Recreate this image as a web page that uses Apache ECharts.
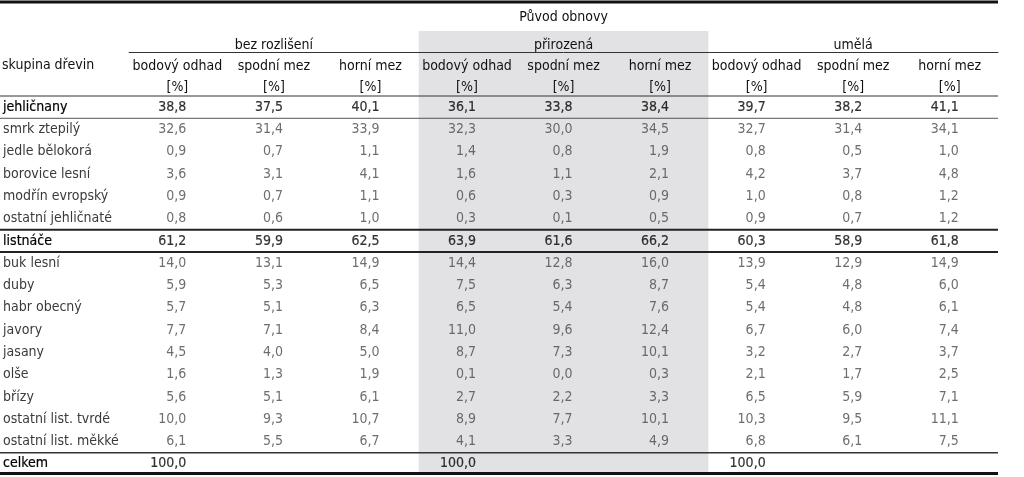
<!DOCTYPE html>
<html><head><meta charset="utf-8">
<script src="https://cdn.jsdelivr.net/npm/echarts@6/dist/echarts.min.js"></script>
<style>html,body{margin:0;padding:0;background:#fff}#c{width:1024px;height:477px}</style>
</head><body><div id="c"></div>
<script>
const FONT = '"Liberation Sans Narrow","DejaVu Sans Condensed","Arial Narrow",sans-serif';
const FS = 14;
const topTitle = 'Původ obnovy';
const groups = ['bez rozlišení', 'přirozená', 'umělá'];
const measures = ['bodový odhad', 'spodní mez', 'horní mez'];
const unitLabel = '[%]';
const rowHeader = 'skupina dřevin';
const rowNames = ['jehličnany', 'smrk ztepilý', 'jedle bělokorá', 'borovice lesní', 'modřín evropský', 'ostatní jehličnaté',
  'listnáče', 'buk lesní', 'duby', 'habr obecný', 'javory', 'jasany', 'olše', 'břízy', 'ostatní list. tvrdé', 'ostatní list. měkké', 'celkem'];
const summaryRows = ['jehličnany', 'listnáče', 'celkem'];

const bezBod = [38.8, 32.6, 0.9, 3.6, 0.9, 0.8, 61.2, 14.0, 5.9, 5.7, 7.7, 4.5, 1.6, 5.6, 10.0, 6.1, 100.0];
const bezDol = [37.5, 31.4, 0.7, 3.1, 0.7, 0.6, 59.9, 13.1, 5.3, 5.1, 7.1, 4.0, 1.3, 5.1, 9.3, 5.5, null];
const bezHor = [40.1, 33.9, 1.1, 4.1, 1.1, 1.0, 62.5, 14.9, 6.5, 6.3, 8.4, 5.0, 1.9, 6.1, 10.7, 6.7, null];
const priBod = [36.1, 32.3, 1.4, 1.6, 0.6, 0.3, 63.9, 14.4, 7.5, 6.5, 11.0, 8.7, 0.1, 2.7, 8.9, 4.1, 100.0];
const priDol = [33.8, 30.0, 0.8, 1.1, 0.3, 0.1, 61.6, 12.8, 6.3, 5.4, 9.6, 7.3, 0.0, 2.2, 7.7, 3.3, null];
const priHor = [38.4, 34.5, 1.9, 2.1, 0.9, 0.5, 66.2, 16.0, 8.7, 7.6, 12.4, 10.1, 0.3, 3.3, 10.1, 4.9, null];
const umeBod = [39.7, 32.7, 0.8, 4.2, 1.0, 0.9, 60.3, 13.9, 5.4, 5.4, 6.7, 3.2, 2.1, 6.5, 10.3, 6.8, 100.0];
const umeDol = [38.2, 31.4, 0.5, 3.7, 0.8, 0.7, 58.9, 12.9, 4.8, 4.8, 6.0, 2.7, 1.7, 5.9, 9.5, 6.1, null];
const umeHor = [41.1, 34.1, 1.0, 4.8, 1.2, 1.2, 61.8, 14.9, 6.0, 6.1, 7.4, 3.7, 2.5, 7.1, 11.1, 7.5, null];

const columnsData = [bezBod, bezDol, bezHor, priBod, priDol, priHor, umeBod, umeDol, umeHor];
const columnKeys = columnsData.map((_, i) => 'c' + i);
const columnLabels = columnsData.map((_, i) => measures[i % 3]);

const fmt = v => v.toFixed(1).replace('.', ',');
const boldStyle = { fontFamily: FONT, fontSize: FS, color: '#000', textBorderColor: '#000', textBorderWidth: 0.2 };
const rich = {
  b: boldStyle,
  n: { fontFamily: FONT, fontSize: FS, color: '#4a4a4a' }
};

const chart = echarts.init(document.getElementById('c'), null, { renderer: 'canvas' });

const series = columnsData.map((vals, ci) => ({
  type: 'scatter',
  symbolSize: 0,
  silent: true,
  clip: false,
  data: vals.map((v, ri) => v == null ? null : [ci, ri, v]).filter(d => d),
  label: {
    show: true,
    position: 'inside',
    align: 'right',
    offset: [9, 0],
    formatter: p => {
      const isSum = summaryRows.includes(rowNames[p.value[1]]);
      return (isSum ? '{b|' : '{n|') + fmt(p.value[2]) + '}';
    },
    rich: rich
  }
}));

const axisText = { fontFamily: FONT, fontSize: FS, color: '#111' };

chart.setOption({
  animation: false,
  backgroundColor: '#fff',
  title: {
    text: rowHeader, left: 2, top: 58, padding: 0,
    textStyle: { fontFamily: FONT, fontSize: FS, color: '#111', fontWeight: 'normal' }
  },
  grid: { left: 128, right: 26, top: 96, bottom: 2, containLabel: false },
  xAxis: [
    {
      type: 'category', data: columnKeys, position: 'top',
      axisLine: { show: false }, axisTick: { show: false }, splitLine: { show: false },
      axisLabel: Object.assign({}, axisText, {
        interval: 0, margin: -2, lineHeight: 21,
        formatter: (v, i) => columnLabels[i] + '\n' + unitLabel
      })
    },
    {
      type: 'category', data: groups, position: 'top', offset: 43.5,
      axisLine: { show: true, lineStyle: { color: '#333', width: 1 } },
      axisTick: { show: false }, splitLine: { show: false },
      axisLabel: Object.assign({}, axisText, { interval: 0, margin: 0 })
    },
    {
      type: 'category', data: [topTitle], position: 'top', offset: 72,
      axisLine: { show: false }, axisTick: { show: false }, splitLine: { show: false },
      axisLabel: Object.assign({}, axisText, { margin: 0 })
    }
  ],
  yAxis: {
    type: 'category', data: rowNames, inverse: true,
    axisLine: { show: false }, axisTick: { show: false }, splitLine: { show: false },
    axisLabel: {
      interval: 0, align: 'left', margin: 126,
      formatter: v => (summaryRows.includes(v) ? '{b|' : '{n|') + v + '}',
      rich: {
        b: boldStyle,
        n: { fontFamily: FONT, fontSize: FS, color: '#3a3a3a' }
      }
    }
  },
  series: series
});

// layout decorations derived from the axes
const c0 = chart.convertToPixel({ xAxisIndex: 1 }, groups[0]);
const c1 = chart.convertToPixel({ xAxisIndex: 1 }, groups[1]);
const bw = c1 - c0;
const gx0 = c1 - bw / 2, gx1 = c1 + bw / 2;
const lastColX = chart.convertToPixel({ xAxisIndex: 0 }, columnKeys[8]);
const colW = chart.convertToPixel({ xAxisIndex: 0 }, columnKeys[1]) - chart.convertToPixel({ xAxisIndex: 0 }, columnKeys[0]);
const rightEdge = lastColX + colW / 2;
const ry = i => chart.convertToPixel({ yAxisIndex: 0 }, rowNames[i]);
const pitch = ry(1) - ry(0);
const below = i => ry(i) + pitch / 2;
const above = i => ry(i) - pitch / 2;
const idx = n => rowNames.indexOf(n);

const hline = (y, x0, w, col) => ({
  type: 'line', z: 100, silent: true,
  shape: { x1: x0, y1: y, x2: rightEdge, y2: y },
  style: { stroke: col, lineWidth: w }
});

chart.setOption({
  graphic: [
    { type: 'rect', z: -10, silent: true,
      shape: { x: gx0, y: 31, width: gx1 - gx0, height: below(rowNames.length - 1) - 31 },
      style: { fill: '#e2e2e4' } },
    hline(2, 0, 3, '#111'),
    hline(above(0), 0, 1, '#333'),
    hline(below(0), 0, 1, '#555'),
    hline(above(idx('listnáče')), 0, 2, '#222'),
    hline(below(idx('listnáče')), 0, 2, '#222'),
    hline(above(idx('celkem')), 0, 1.5, '#333'),
    hline(below(idx('celkem')) - 1.5, 0, 3, '#111')
  ]
});
</script>
</body></html>
